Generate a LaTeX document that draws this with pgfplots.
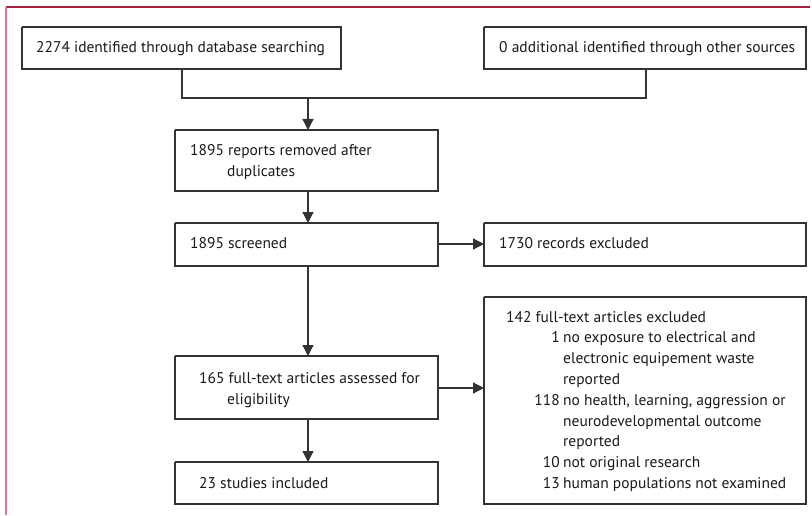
\documentclass[border=0pt]{standalone}
\usepackage{pgfplots}
\pgfplotsset{compat=1.18}
\usepackage{fontspec}
\setmainfont{PT Sans}
\usetikzlibrary{arrows.meta}
\definecolor{boxc}{HTML}{333333}
\definecolor{topred}{HTML}{A3203F}
\definecolor{leftpink}{HTML}{D9788F}
\tikzset{
  txt/.style={anchor=base west, inner sep=0pt, font=\fontsize{15.5bp}{18bp}\selectfont, text=black!90},
  num/.style={anchor=base east, inner sep=0pt, font=\fontsize{15.5bp}{18bp}\selectfont, text=black!90},
}
\pgfplotsset{
  bx/.style={line width=1.2bp, draw=boxc, mark=none},
  ar/.style={line width=1.2bp, draw=boxc, fill=boxc, mark=none, -{Triangle[width=11bp,length=11bp]}},
}
\begin{document}
\begin{tikzpicture}
\begin{axis}[
  scale only axis, width=812bp, height=515bp,
  xmin=0, xmax=812, ymin=0, ymax=515, y dir=reverse,
  hide axis, clip=false,
]
\path (axis cs:0,0) rectangle (axis cs:812,515);
% frame
\addplot[draw=topred, line width=1.3bp, mark=none] coordinates {(6,7) (810,7)};
\addplot[draw=leftpink, line width=1.3bp, mark=none] coordinates {(6,7) (6,515)};
% boxes
\addplot[bx] coordinates {(22,27) (341,27) (341,69) (22,69) (22,27)};
\addplot[bx] coordinates {(484,27) (806,27) (806,69) (484,69) (484,27)};
\addplot[bx] coordinates {(175,130) (438,130) (438,191) (175,191) (175,130)};
\addplot[bx] coordinates {(175,223) (438,223) (438,266) (175,266) (175,223)};
\addplot[bx] coordinates {(484,223) (806,223) (806,266) (484,266) (484,223)};
\addplot[bx] coordinates {(175,356) (438,356) (438,419) (175,419) (175,356)};
\addplot[bx] coordinates {(484,297) (806,297) (806,504) (484,504) (484,297)};
\addplot[bx] coordinates {(175,462) (438,462) (438,504) (175,504) (175,462)};
% connectors
\addplot[bx] coordinates {(182,69) (182,98) (646,98) (646,69)};
\addplot[ar] coordinates {(308,98) (308,130)};
\addplot[ar] coordinates {(308,191) (308,223)};
\addplot[ar] coordinates {(438,244) (484,244)};
\addplot[ar] coordinates {(308,266) (308,356)};
\addplot[ar] coordinates {(438,388) (484,388)};
\addplot[ar] coordinates {(308,419) (308,462)};
% texts
\node[txt] at (axis cs:36,53) {2274 identified through database searching};
\node[txt] at (axis cs:499,53) {0 additional identified through other sources};
\node[txt] at (axis cs:190,155) {1895 reports removed after};
\node[txt] at (axis cs:227,176) {duplicates};
\node[txt] at (axis cs:190,248) {1895 screened};
\node[txt] at (axis cs:499,248) {1730 records excluded};
\node[txt] at (axis cs:199,383) {165 full-text articles assessed for};
\node[txt] at (axis cs:227,404) {eligibility};
\node[txt] at (axis cs:199,488) {23 studies included};
\node[txt] at (axis cs:506,322) {142 full-text articles excluded};
\node[num] at (axis cs:560,342.8) {1};
\node[txt] at (axis cs:563,342.8) {no exposure to electrical and};
\node[txt] at (axis cs:563,363.6) {electronic equipement waste};
\node[txt] at (axis cs:563,384.4) {reported};
\node[num] at (axis cs:560,405.2) {118};
\node[txt] at (axis cs:563,405.2) {no health, learning, aggression or};
\node[txt] at (axis cs:563,426) {neurodevelopmental outcome};
\node[txt] at (axis cs:563,446.8) {reported};
\node[num] at (axis cs:560,467.6) {10};
\node[txt] at (axis cs:563,467.6) {not original research};
\node[num] at (axis cs:560,488.4) {13};
\node[txt] at (axis cs:563,488.4) {human populations not examined};
\end{axis}
\end{tikzpicture}
\end{document}
